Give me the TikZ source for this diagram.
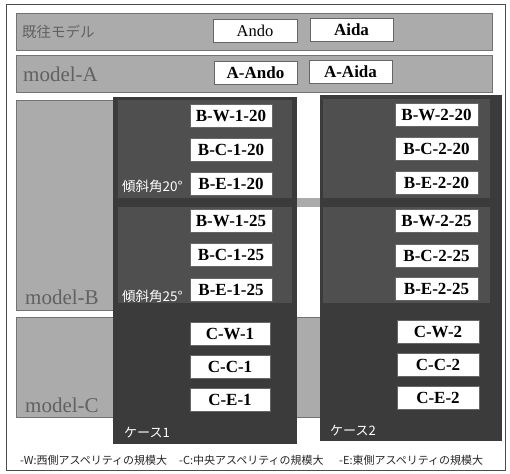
\documentclass[tikz,border=0pt]{standalone}
\usepackage{fontspec}
\setmainfont{Liberation Serif}
\newfontfamily\tnr{Liberation Serif}
\newfontfamily\jp{Noto Sans CJK JP}
\definecolor{bandgray}{HTML}{ABABAB}
\definecolor{casedark}{HTML}{3B3B3B}
\definecolor{paneldark}{HTML}{4F4F4F}
\begin{document}
\begin{tikzpicture}[x=1pt,y=-1pt,
  band/.style={fill=bandgray,draw=black!55,line width=0.6pt},
  casebox/.style={fill=casedark},
  panel/.style={fill=paneldark},
  lbl/.style={fill=white,draw=black!60,line width=0.5pt,inner sep=0pt,minimum height=23pt,
    font=\tnr\fontsize{17}{17}\selectfont\bfseries},
  mlab/.style={anchor=west,text=black!62,inner sep=0pt,font=\tnr\fontsize{21}{21}\selectfont},
  jlab/.style={anchor=west,text=white,inner sep=0pt,font=\jp\fontsize{13.5}{14}\selectfont},
  note/.style={anchor=west,text=black!85,inner sep=0pt,font=\jp\fontsize{11}{12}\selectfont}]
\useasboundingbox (0,0) rectangle (510,473);
\fill[white] (0,0) rectangle (510,473);
% outer frame
\draw[black!70,line width=0.7pt] (6,4) rectangle (505,470);
% model bands
\draw[band] (16,13) rectangle (492,50);
\draw[band] (16,55) rectangle (492,92);
\draw[band] (16,100) rectangle (492,310);
\draw[band] (16,317) rectangle (492,417);
% case boxes
\fill[casebox] (113,97) rectangle (297,444);
\fill[casebox] (320,95) rectangle (502,441);
\fill[panel] (118,100) rectangle (292,198);
\fill[panel] (118,207) rectangle (292,303);
\fill[panel] (323,99) rectangle (490,198);
\fill[panel] (323,207) rectangle (490,303);
% white gap between cases
\fill[white] (297,97) rectangle (320,198);
\fill[white] (297,207) rectangle (320,313);
% model labels
\node[mlab,font=\jp\fontsize{14.5}{15}\selectfont] (m0) at (22,32) {既往モデル};
\node[mlab] (ma) at (23,74) {model-A};
\node[mlab] (mb) at (25,297) {model-B};
\node[mlab] (mc) at (25,405) {model-C};
% top boxes
\node[lbl,minimum width=84pt,font=\tnr\fontsize{16.5}{17}\selectfont] (ando) at (255,31) {Ando};
\node[lbl,minimum width=83pt] (aida) at (351.5,29.5) {Aida};
\node[lbl,minimum width=83pt] (aando) at (255.5,72.5) {A-Ando};
\node[lbl,minimum width=83pt] (aaida) at (350.5,71.5) {A-Aida};
% case 1 B
\node[lbl,minimum width=82pt] (bw120) at (231,116) {B-W-1-20};
\node[lbl,minimum width=82pt] (bc120) at (231,150) {B-C-1-20};
\node[lbl,minimum width=82pt] (be120) at (231,183.5) {B-E-1-20};
\node[lbl,minimum width=82pt] (bw125) at (231,220.5) {B-W-1-25};
\node[lbl,minimum width=82pt] (bc125) at (231,255) {B-C-1-25};
\node[lbl,minimum width=82pt] (be125) at (231,290) {B-E-1-25};
% case 2 B
\node[lbl,minimum width=83pt] (bw220) at (436.5,115) {B-W-2-20};
\node[lbl,minimum width=83pt] (bc220) at (436.5,149) {B-C-2-20};
\node[lbl,minimum width=83pt] (be220) at (436.5,182.5) {B-E-2-20};
\node[lbl,minimum width=83pt] (bw225) at (436.5,220.5) {B-W-2-25};
\node[lbl,minimum width=83pt] (bc225) at (436.5,255.5) {B-C-2-25};
\node[lbl,minimum width=83pt] (be225) at (436.5,289) {B-E-2-25};
% C boxes
\node[lbl,minimum width=80pt] (cw1) at (230,333.5) {C-W-1};
\node[lbl,minimum width=80pt] (cc1) at (230,367) {C-C-1};
\node[lbl,minimum width=80pt] (ce1) at (230,400) {C-E-1};
\node[lbl,minimum width=82pt] (cw2) at (438,331.5) {C-W-2};
\node[lbl,minimum width=82pt] (cc2) at (438,365) {C-C-2};
\node[lbl,minimum width=82pt] (ce2) at (438,398) {C-E-2};
% inner labels
\node[jlab] (t20) at (122,186) {傾斜角20°};
\node[jlab] (t25) at (122,296) {傾斜角25°};
\node[jlab,font=\jp\fontsize{13}{14}\selectfont] (k1) at (124,433) {ケース1};
\node[jlab,font=\jp\fontsize{13}{14}\selectfont] (k2) at (330,431) {ケース2};
% bottom notes
\node[note] (nw) at (20,460) {-W:西側アスペリティの規模大};
\node[note] (nc) at (179,460) {-C:中央アスペリティの規模大};
\node[note] (ne) at (339,460) {-E:東側アスペリティの規模大};
\end{tikzpicture}
\end{document}
